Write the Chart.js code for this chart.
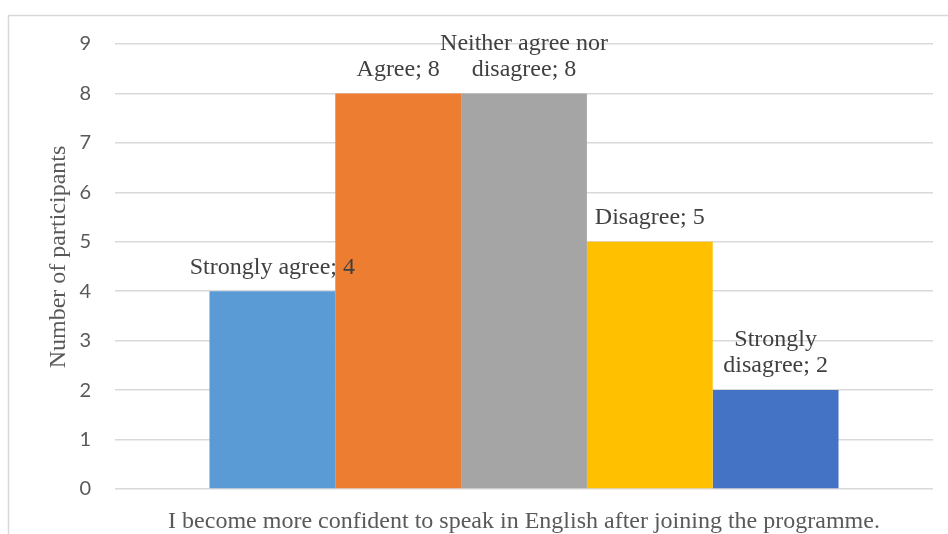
<!DOCTYPE html>
<html>
<head>
<meta charset="utf-8">
<script src="https://cdn.jsdelivr.net/npm/chart.js@4.4.1/dist/chart.umd.min.js"></script>
<style>
html,body{margin:0;padding:0;background:#fff;}
#wrap{width:948px;height:534px;position:relative;}
</style>
</head>
<body>
<div id="wrap"><canvas id="c" width="948" height="534"></canvas></div>
<script>
const categories = ['I become more confident to speak in English after joining the programme.'];
const seriesNames = ['Strongly agree', 'Agree', 'Neither agree nor disagree', 'Disagree', 'Strongly disagree'];
const seriesValues = [4, 8, 8, 5, 2];
const seriesColors = ['#5B9BD5', '#ED7D31', '#A5A5A5', '#FFC000', '#4472C4'];
const labelFirstLines = [null, null, 'Neither agree nor', null, 'Strongly'];
const yTicks = [0, 1, 2, 3, 4, 5, 6, 7, 8, 9];
const yTitle = 'Number of participants';

const serif = "'Liberation Serif', 'Times New Roman', serif";
const sans = "Lato, 'Open Sans', sans-serif";

const frame = {
  id: 'frame',
  beforeDraw(chart) {
    const ctx = chart.ctx;
    ctx.save();
    ctx.strokeStyle = '#d9d9d9';
    ctx.lineWidth = 1.5;
    ctx.beginPath();
    ctx.moveTo(8.5, 534);
    ctx.lineTo(8.5, 15.5);
    ctx.lineTo(948, 15.5);
    ctx.stroke();
    ctx.restore();
  },
  afterDraw(chart) {
    const ctx = chart.ctx;
    ctx.save();
    ctx.font = '24px ' + serif;
    ctx.fillStyle = '#595959';
    ctx.textAlign = 'center';
    ctx.textBaseline = 'middle';
    ctx.translate(59, 257);
    ctx.rotate(-Math.PI / 2);
    ctx.fillText(yTitle, 0, 0);
    ctx.restore();
  }
};

const dataLabels = {
  id: 'dataLabels',
  afterDatasetsDraw(chart) {
    const ctx = chart.ctx;
    ctx.save();
    ctx.font = '24px ' + serif;
    ctx.fillStyle = '#404040';
    ctx.textAlign = 'center';
    ctx.textBaseline = 'middle';
    chart.data.datasets.forEach((ds, i) => {
      const el = chart.getDatasetMeta(i).data[0];
      const full = seriesNames[i] + '; ' + seriesValues[i];
      let lines = [full];
      if (labelFirstLines[i]) {
        lines = [labelFirstLines[i], full.slice(labelFirstLines[i].length + 1)];
      }
      const lh = 26;
      const base = el.y - 24;
      lines.forEach((t, k) => {
        ctx.fillText(t, el.x, base - (lines.length - 1 - k) * lh);
      });
    });
    ctx.restore();
  }
};

new Chart(document.getElementById('c'), {
  type: 'bar',
  data: {
    labels: categories,
    datasets: seriesNames.map((n, i) => ({
      label: n,
      data: [seriesValues[i]],
      backgroundColor: seriesColors[i],
      borderWidth: 0,
      categoryPercentage: 0.769,
      barPercentage: 1.0
    }))
  },
  options: {
    responsive: false,
    animation: false,
    devicePixelRatio: 1,
    layout: { padding: { left: 20, right: 15, top: 44, bottom: 0 } },
    plugins: { legend: { display: false }, tooltip: { enabled: false } },
    scales: {
      x: {
        grid: { display: false },
        border: { display: false },
        ticks: { font: { family: serif, size: 24 }, color: '#595959', padding: 10, maxRotation: 0, autoSkip: false },
        afterFit(s) { s.height = 45; }
      },
      y: {
        min: 0, max: 9,
        afterBuildTicks(s) { s.ticks = yTicks.map(v => ({ value: v })); },
        grid: { color: '#d9d9d9', lineWidth: 1.5, drawTicks: false },
        border: { display: false },
        ticks: { font: { family: sans, size: 20 }, color: '#595959', padding: 24 },
        afterFit(s) { s.width = 95; }
      }
    }
  },
  plugins: [frame, dataLabels]
});
</script>
</body>
</html>
